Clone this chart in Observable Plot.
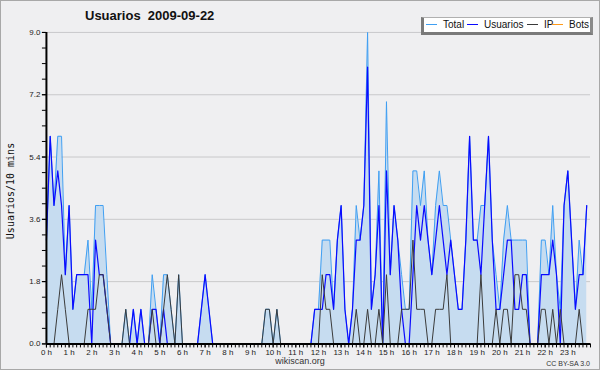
<!DOCTYPE html>
<html><head><meta charset="utf-8">
<script src="https://cdn.jsdelivr.net/npm/d3@7"></script>
<script src="https://cdn.jsdelivr.net/npm/@observablehq/plot@0.6"></script>
<style>
html,body{margin:0;padding:0;background:#fff;}
#wrap{position:relative;width:600px;height:370px;background:#efeff1;box-sizing:border-box;border:1px solid #a8a8a8;overflow:hidden;font-family:"Liberation Sans",Arial,sans-serif;}
#chart{position:absolute;left:-1px;top:-1px;}
#title{position:absolute;left:84px;top:7px;font-weight:bold;font-size:13px;color:#111;white-space:pre;}
#ylab{position:absolute;left:9px;top:190px;transform:translate(-50%,-50%) rotate(-90deg);font-family:"DejaVu Sans Mono",monospace;font-size:10px;color:#111;white-space:nowrap;}
#legend{position:absolute;left:420px;top:16px;width:166px;height:14px;background:#fff;border:1px solid #b0b0b0;border-left:3px solid #7a7a7a;border-bottom:3px solid #7a7a7a;border-right:3px solid #8a8a8a;font-size:10px;color:#111;white-space:nowrap;}
#legend .it{position:absolute;top:0;line-height:14px;white-space:nowrap;}
#legend .sw{display:inline-block;width:11px;height:1px;vertical-align:middle;margin-right:6px;position:relative;top:-1px;}
#site{position:absolute;left:0;width:598px;top:355px;text-align:center;font-size:9px;color:#333;}
#cc{position:absolute;right:9px;top:359px;font-size:7px;color:#333;white-space:nowrap;}
</style></head>
<body>
<div id="wrap">
  <div id="chart"></div>
  <div id="title"></div>
  <div id="ylab"></div>
  <div id="legend"></div>
  <div id="site"></div>
  <div id="cc"></div>
</div>
<script>
// ---- data (10-minute intervals, 2009-09-22) ----
const titleText = "Usuarios  2009-09-22";
const yAxisTitle = "Usuarios/10 mins";
const seriesNames = ["Total", "Usuarios", "IP", "Bots"];
const seriesColors = ["#3f9ff2", "#0a0aff", "#3a3a3a", "#ff9a1a"];

const total = [
 3,6,4,6,6,2,4,1,2,2,
 2,3,1,4,4,4,2,0,0,0,
 0,1,0,1,0,1,0,0,2,1,
 0,2,2,1,0,2,0,0,0,0,
 0,1,2,1,0,0,0,0,0,0,
 0,0,0,0,0,0,0,0,1,1,
 0,1,0,0,0,0,0,0,0,0,
 0,1,1,3,3,3,1,3,4,1,
 0,1,4,3,4,9,1,2,5,0,
 7,2,4,3,2,1,1,5,5,4,
 5,3,2,4,5,4,4,3,2,1,
 1,3,6,3,3,4,4,6,3,2,
 1,3,4,3,3,3,3,3,0,0,
 0,3,3,2,4,2,1,4,5,3,
 1,3,2,4];
const usuarios = [
 3,6,4,5,4,2,4,1,2,2,
 2,2,0,3,2,2,1,0,0,0,
 0,0,0,1,0,1,0,0,1,1,
 0,1,0,0,0,0,0,0,0,0,
 0,1,2,1,0,0,0,0,0,0,
 0,0,0,0,0,0,0,0,0,0,
 0,0,0,0,0,0,0,0,0,0,
 0,1,1,1,2,2,1,3,4,1,
 0,1,3,3,4,8,1,2,4,0,
 5,2,4,3,1,0,0,2,4,3,
 4,3,2,3,4,3,2,3,2,1,
 1,3,6,3,3,2,4,6,3,1,
 1,2,3,3,1,1,2,2,0,0,
 0,2,2,2,3,2,0,4,5,3,
 1,2,2,4];
const ip = [
 0,0,0,1,2,1,0,0,0,0,
 0,1,1,1,2,2,1,0,0,0,
 0,1,0,0,0,0,0,0,1,0,
 0,1,2,1,0,2,0,0,0,0,
 0,0,0,0,0,0,0,0,0,0,
 0,0,0,0,0,0,0,0,1,1,
 0,1,0,0,0,0,0,0,0,0,
 0,0,0,2,1,1,0,0,0,0,
 0,0,1,0,0,1,0,0,1,0,
 2,0,0,0,1,1,1,3,1,1,
 1,0,0,1,1,1,2,0,0,0,
 0,0,0,0,0,2,0,0,0,1,
 0,1,1,0,2,2,1,1,0,0,
 0,1,1,0,1,0,1,0,0,0,
 0,1,0,0];
const bots = [
 0,0,0,0,0,0,0,0,0,0,
 0,0,0,0,0,0,0,0,0,0,
 0,0,0,0,0,0,0,0,0,0,
 0,0,0,0,0,0,0,0,0,0,
 0,0,0,0,0,0,0,0,0,0,
 0,0,0,0,0,0,0,0,0,0,
 0,0,0,0,0,0,0,0,0,0,
 0,0,0,0,0,0,0,0,0,0,
 0,0,0,0,0,0,0,0,0,0,
 0,0,0,0,0,0,0,0,0,0,
 0,0,0,0,0,0,0,0,0,0,
 0,0,0,0,0,0,0,0,0,0,
 0,0,0,0,0,0,0,0,0,0,
 0,0,0,0,0,0,0,0,0,0,
 0,0,0,0];
const hourLabels = ["0 h","1 h","2 h","3 h","4 h","5 h","6 h","7 h","8 h","9 h","10 h","11 h",
 "12 h","13 h","14 h","15 h","16 h","17 h","18 h","19 h","20 h","21 h","22 h","23 h"];
const yTickValues = [0, 1.8, 3.6, 5.4, 7.2, 9.0];
const yTickLabels = ["0.0","1.8","3.6","5.4","7.2","9.0"];
const siteText = "wikiscan.org";
const licenseText = "CC BY-SA 3.0";

// ---- build ----
const rows = total.map((t, i) => ({i, total: t, usuarios: usuarios[i], ip: ip[i], bots: bots[i]}));
const stepsPerHour = 6;
const xMinor = d3.range(0, 24 * stepsPerHour + 1);
const xHour = hourLabels.map((_, h) => h * stepsPerHour);
const yMinor = d3.range(0, 21).map(k => k * 0.45);

const chart = Plot.plot({
  width: 600, height: 370,
  marginLeft: 46, marginRight: 9, marginTop: 32, marginBottom: 26,
  style: {background: "transparent", fontFamily: "'Liberation Sans', Arial, sans-serif", fontSize: "8px", color: "#222"},
  x: {domain: [0, 24 * stepsPerHour], axis: null, label: null},
  y: {domain: [0, 9], axis: null, label: null},
  marks: [
    Plot.ruleY(yTickValues.slice(1), {stroke: "#c9c9cb", strokeWidth: 1}),
    Plot.areaY(rows, {x: "i", y: "total", fill: "#c6dcf0", fillOpacity: 1}),
    Plot.lineY(rows, {x: "i", y: "total", stroke: seriesColors[0], strokeWidth: 1}),
    Plot.lineY(rows, {x: "i", y: "usuarios", stroke: seriesColors[1], strokeWidth: 1.2}),
    Plot.lineY(rows, {x: "i", y: "ip", stroke: seriesColors[2], strokeWidth: 1}),
    Plot.lineY(rows, {x: "i", y: "bots", stroke: seriesColors[3], strokeWidth: 1}),
    Plot.axisY({ticks: yMinor, tickSize: 4, tickFormat: () => "", stroke: "#000", label: null}),
    Plot.axisY({ticks: yTickValues, tickSize: 4, tickPadding: 2, tickFormat: d => yTickLabels[yTickValues.indexOf(d)], stroke: "#000", fill: "#222", label: null}),
    Plot.axisX({ticks: xMinor, tickSize: 4, tickFormat: () => "", stroke: "#000", label: null}),
    Plot.axisX({ticks: xHour, tickSize: 4, tickPadding: 1, tickFormat: d => hourLabels[d / stepsPerHour], stroke: "#000", fill: "#222", label: null}),
    Plot.ruleX([0], {stroke: "#000", strokeWidth: 2}),
    Plot.ruleY([0], {stroke: "#000", strokeWidth: 2})
  ]
});
document.getElementById("chart").appendChild(chart);

document.getElementById("title").textContent = titleText;
document.getElementById("ylab").textContent = yAxisTitle;
document.getElementById("site").textContent = siteText;
document.getElementById("cc").textContent = licenseText;

const legendX = [2, 43, 103, 128];
const leg = document.getElementById("legend");
seriesNames.forEach((name, k) => {
  const it = document.createElement("span");
  it.className = "it";
  it.style.left = legendX[k] + "px";
  const sw = document.createElement("span");
  sw.className = "sw";
  sw.style.background = seriesColors[k];
  it.appendChild(sw);
  it.appendChild(document.createTextNode(name));
  leg.appendChild(it);
});
</script>
</body></html>
